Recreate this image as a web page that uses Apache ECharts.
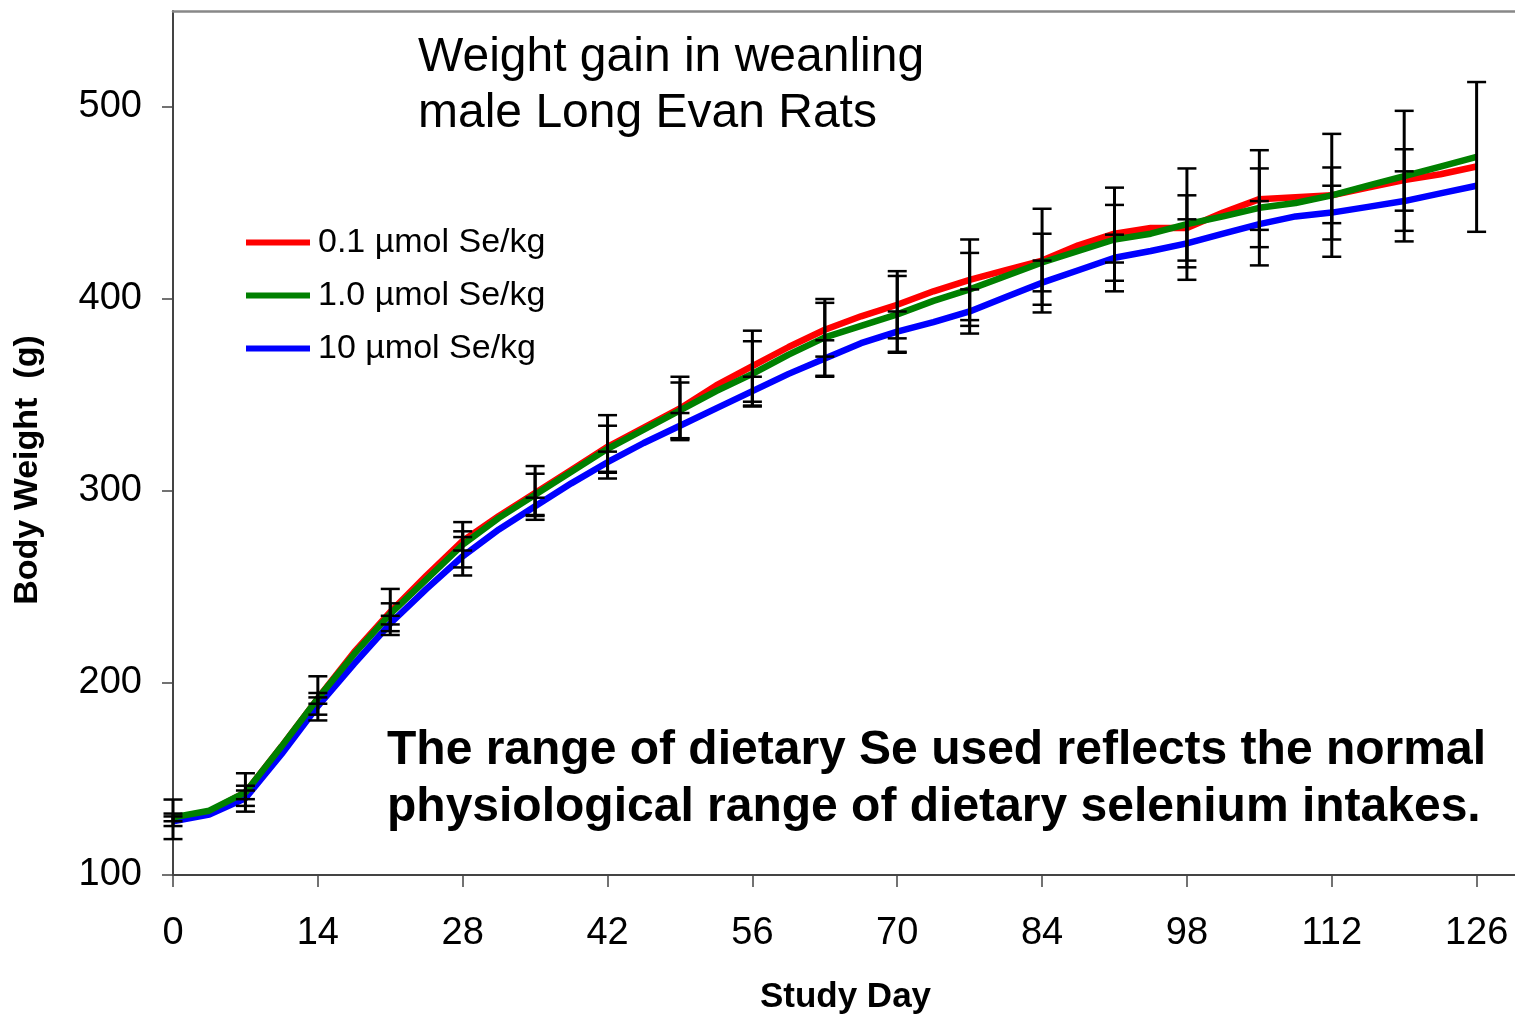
<!DOCTYPE html>
<html>
<head>
<meta charset="utf-8">
<script src="https://cdn.jsdelivr.net/npm/echarts@6/dist/echarts.min.js"></script>
<style>
html,body{margin:0;padding:0;background:#fff;}
#chart{width:1515px;height:1016px;}
</style>
</head>
<body>
<div id="chart"></div>
<script>
// ---- data ----
const days = [0,3.5,7,10.5,14,17.5,21,24.5,28,31.5,35,38.5,42,45.5,49,52.5,56,59.5,63,66.5,70,73.5,77,80.5,84,87.5,91,94.5,98,101.5,105,108.5,112,115.5,119,122.5,126];
const red01  = [129,133,143,167,192,216,237,256,274,287,299,311,323,333,343,355,365,375,384,391,397,404,410,415,420,428,434,437,437,445,452,453,454,458,462,465,469];
const green1 = [130,133.5,143,167,192,215,236,254,272,286,298,310,322,332,342,352,361,371,380,386,392,399,405,412,419,425,431,434,439,443,447.5,450,454,459,464,469,474];
const blue10 = [128,131.5,140,163,188,210,231,249,266,280,292,304,315,325,334,343,352,361,369,377,383,388,393.5,401,408.5,415,421.5,425,429,434,439,443,445,448,451,455,459];
const errDays = [0,7,14,21,28,35,42,49,56,63,70,77,84,91,98,105,112,119,126];
const redSE   = [10.3,10,11.5,12,5,14,16.5,16.5,18.5,14,17.5,21,27,15,17,16,14.5,16,null];
const greenSE = [2,3.5,2.8,5.5,11.8,11,12,14.5,17,20,20,19,15,27,29,30,32,34,39];
const blueSE  = [2.5,4,4.5,4,10,4.5,5.5,6.6,7.5,9.5,10.5,11.5,11.5,12,12.5,12,14,15.5,null];
const seriesNames = ['0.1 µmol Se/kg','1.0 µmol Se/kg','10 µmol Se/kg'];
const xTicks = [0,14,28,42,56,70,84,98,112,126];
const yTicks = [100,200,300,400,500];

const FONT = "'Liberation Sans', Arial, sans-serif";

function pairs(vals){ return days.map((d,i)=>[d, vals[i]]); }
function errData(vals, se){
  const out = [];
  errDays.forEach((d,i)=>{
    if (se[i] == null) return;
    const m = vals[days.indexOf(d)];
    out.push([d, m - se[i], m + se[i]]);
  });
  return out;
}
function errSeries(vals, se){
  return {
    type:'custom', z:10, silent:true,
    data: errData(vals, se),
    encode:{x:0, y:[1,2]},
    renderItem:function(params, api){
      const x = api.value(0), lo = api.value(1), hi = api.value(2);
      const pH = api.coord([x, hi]), pL = api.coord([x, lo]);
      const hw = 9.5;
      const st = {stroke:'#000', lineWidth:2.5};
      return {type:'group', children:[
        {type:'line', shape:{x1:pH[0], y1:pH[1], x2:pL[0], y2:pL[1]}, style:{stroke:'#000', lineWidth:3}},
        {type:'line', shape:{x1:pH[0]-hw, y1:pH[1], x2:pH[0]+hw, y2:pH[1]}, style:st},
        {type:'line', shape:{x1:pL[0]-hw, y1:pL[1], x2:pL[0]+hw, y2:pL[1]}, style:st}
      ]};
    }
  };
}
function lineSeries(name, vals, color, z){
  return {
    name:name, type:'line', data:pairs(vals), showSymbol:false, symbol:'none',
    z:z, lineStyle:{color:color, width:6.5}, itemStyle:{color:color}, silent:true
  };
}

const chart = echarts.init(document.getElementById('chart'), null, {renderer:'canvas'});
chart.setOption({
  backgroundColor:'#fff',
  animation:false,
  grid:{left:173, top:11, right:-3, bottom:141, show:false, containLabel:false, outerBoundsMode:'none'},
  xAxis:[{
    type:'value', min:0, max:130, interval:14,
    name:'Study Day', nameLocation:'middle', nameGap:105,
    nameTextStyle:{fontFamily:FONT, fontWeight:'bold', fontSize:35, color:'#000'},
    axisLine:{show:true, onZero:false, lineStyle:{color:'#444', width:2}},
    axisTick:{show:true, length:12, lineStyle:{color:'#444', width:1.5}, customValues:xTicks},
    axisLabel:{fontFamily:FONT, fontSize:38, color:'#000', margin:40, customValues:xTicks},
    splitLine:{show:false}
  },{
    type:'value', position:'top', min:0, max:130, interval:14,
    axisLine:{show:true, onZero:false, lineStyle:{color:'#888', width:2.5}},
    axisTick:{show:false}, axisLabel:{show:false}, splitLine:{show:false}
  }],
  yAxis:{
    type:'value', min:100, max:550, interval:50,
    name:'Body Weight  (g)', nameLocation:'middle', nameGap:128, nameRotate:90,
    nameTextStyle:{fontFamily:FONT, fontWeight:'bold', fontSize:34, color:'#000', padding:[0,54,0,0]},
    axisLine:{show:true, onZero:false, lineStyle:{color:'#444', width:2}},
    axisTick:{show:true, length:11, lineStyle:{color:'#444', width:1.5}, customValues:yTicks},
    axisLabel:{fontFamily:FONT, fontSize:38, color:'#000', margin:31, customValues:yTicks},
    splitLine:{show:false}
  },
  legend:{
    data:seriesNames, orient:'vertical', left:246, top:225, padding:0,
    icon:'rect', itemWidth:64, itemHeight:6, itemGap:18,
    textStyle:{fontFamily:FONT, fontSize:34, color:'#000', lineHeight:35, padding:[0,0,0,3]},
    selectedMode:false
  },
  graphic:[
    {type:'text', left:418, top:30, silent:true,
     style:{text:'Weight gain in weanling\nmale Long Evan Rats', font:'48px ' + FONT, fill:'#000', lineHeight:56}},
    {type:'text', left:387, top:722, silent:true,
     style:{text:'The range of dietary Se used reflects the normal\nphysiological range of dietary selenium intakes.', font:'bold 48px ' + FONT, fill:'#000', lineHeight:57}}
  ],
  series:[
    lineSeries(seriesNames[0], red01, '#FF0000', 3),
    lineSeries(seriesNames[2], blue10, '#0000FF', 4),
    lineSeries(seriesNames[1], green1, '#008000', 5),
    errSeries(red01, redSE),
    errSeries(green1, greenSE),
    errSeries(blue10, blueSE)
  ]
});
</script>
</body>
</html>
